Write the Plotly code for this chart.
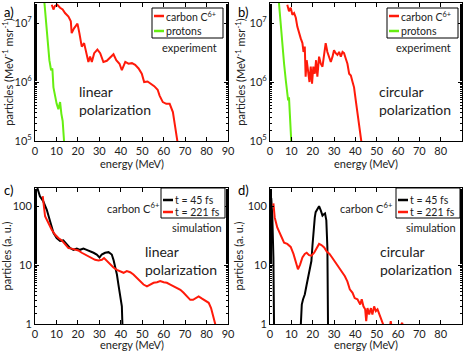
import plotly.graph_objects as go

# panel a) experiment, linear polarization  (energy MeV, log10 particles)
a_c_e = [7.8, 8.6, 9.3, 10.4, 11.7, 12.9, 14.0, 15.6, 16.7, 17.1, 18.2, 19.8, 20.7, 21.8, 22.9, 23.8, 24.9, 25.7, 26.5, 27.6,
         29.1, 30.4, 31.9, 33.5, 35.0, 36.6, 37.9, 39.4, 40.5, 42.1, 43.6, 45.2, 46.7, 48.3, 49.8, 50.9, 52.5, 54.0, 55.6,
         57.2, 58.1, 59.6, 61.2, 62.8, 64.3, 65.4, 66.5]
a_c_l = [7.31, 7.23, 7.29, 7.31, 7.26, 7.23, 7.17, 7.11, 7.03, 6.83, 6.91, 6.99, 6.83, 6.60, 6.66, 6.49, 6.34, 6.43, 6.34, 6.49,
         6.55, 6.49, 6.34, 6.36, 6.42, 6.47, 6.37, 6.31, 6.20, 6.34, 6.31, 6.32, 6.29, 6.23, 6.14, 6.00, 6.01, 5.97, 5.93,
         5.87, 5.77, 5.66, 5.63, 5.63, 5.49, 5.23, 4.97]
a_p_e = [4.4, 5.1, 5.9, 6.7, 7.5, 8.1, 8.6, 9.3, 10.1, 10.9, 11.7, 12.3, 12.9, 13.6]
a_p_l = [7.34, 7.06, 6.71, 6.37, 6.20, 6.23, 5.91, 5.74, 5.63, 5.54, 5.66, 5.46, 5.34, 4.97]

# panel b) experiment, circular polarization
b_c_e = [8.1, 8.9, 9.7, 10.5, 11.3, 12.1, 12.8, 13.6, 14.4, 15.2, 15.7, 16.3, 16.7, 17.2, 17.8, 18.5, 19.1, 19.7, 20.3, 21.0,
         21.6, 22.2, 23.0, 23.8, 24.6, 25.4, 26.1, 26.9, 27.7, 28.5, 29.3, 30.0, 30.8, 31.6, 32.4, 33.2, 34.0, 34.7, 35.5,
         36.3, 37.1, 37.9, 38.7, 39.4, 40.2, 41.0, 41.8, 42.9]
b_c_l = [7.31, 7.20, 7.26, 7.14, 7.17, 7.09, 6.94, 6.83, 6.74, 6.66, 6.51, 6.60, 6.09, 6.37, 6.20, 6.00, 6.26, 5.97, 6.26, 6.14,
         6.37, 6.09, 6.43, 6.31, 6.26, 6.49, 6.66, 6.51, 6.43, 6.34, 6.43, 6.54, 6.49, 6.46, 6.51, 6.43, 6.51, 6.49, 6.40,
         6.31, 6.14, 6.11, 6.00, 5.91, 5.69, 5.46, 5.23, 4.97]
b_p_e = [4.2, 5.0, 5.8, 6.6, 7.4, 7.8, 8.5, 8.9, 9.4, 10.0]
b_p_l = [7.34, 6.94, 6.60, 6.31, 6.03, 5.86, 5.69, 5.74, 5.46, 4.97]

# panel c) simulation, linear polarization
c_45_e = [1.1, 2.3, 3.9, 5.5, 7.0, 8.6, 10.1, 11.7, 13.2, 14.8, 16.4, 17.9, 19.5, 21.0, 22.6, 24.1, 25.7, 27.3, 28.8, 30.1,
          31.1, 32.7, 34.3, 35.8, 36.6, 37.4, 38.2, 38.9, 39.7, 40.5, 40.8]
c_45_l = [2.31, 2.17, 2.08, 1.94, 1.75, 1.55, 1.46, 1.41, 1.42, 1.35, 1.29, 1.26, 1.28, 1.26, 1.28, 1.26, 1.24, 1.21, 1.18, 1.13,
          1.18, 1.21, 1.22, 1.18, 1.09, 0.98, 0.84, 0.67, 0.50, 0.30, -0.05]
c_221_e = [3.6, 4.7, 6.2, 7.8, 9.3, 10.9, 12.5, 14.0, 15.6, 17.1, 18.7, 20.2, 21.8, 23.4, 24.9, 26.5, 28.0, 29.6, 31.2, 32.2,
           33.5, 35.0, 36.6, 38.2, 39.7, 41.3, 42.8, 44.4, 45.9, 47.5, 49.1, 50.6, 52.2, 53.7, 55.3, 56.9, 58.4, 60.0, 61.5,
           63.1, 64.6, 66.2, 67.8, 69.3, 70.9, 72.4, 73.7, 74.8, 76.3, 77.9, 79.4, 81.0, 82.1, 83.3, 84.4]
c_221_l = [2.17, 1.83, 1.72, 1.60, 1.52, 1.46, 1.42, 1.35, 1.29, 1.28, 1.26, 1.25, 1.21, 1.18, 1.15, 1.12, 1.09, 1.08, 1.09, 1.12,
           1.07, 1.01, 0.96, 0.92, 0.90, 0.87, 0.90, 0.88, 0.84, 0.78, 0.73, 0.67, 0.64, 0.67, 0.70, 0.71, 0.73, 0.71, 0.70,
           0.67, 0.64, 0.61, 0.58, 0.53, 0.47, 0.41, 0.41, 0.44, 0.47, 0.43, 0.40, 0.36, 0.27, 0.13, -0.05]

# panel d) simulation, circular polarization
d_45_e = [0.0, 0.6, 1.1, 1.6, 1.9, None, 14.4, 14.9, 15.5, 16.3, 17.2, 17.8, 18.8, 19.4, 19.9, 20.3, 21.0, 21.4, 22.2, 23.0,
          23.8, 24.6, 25.4, 25.8, 26.4, 26.9, 27.2]
d_45_l = [2.18, 2.13, 1.81, 1.13, -0.05, None, -0.05, 0.33, 0.42, 0.50, 0.67, 0.79, 0.96, 1.07, 1.33, 1.58, 1.81, 1.90, 1.95, 2.00,
          1.93, 1.84, 1.87, 1.88, 1.76, 1.30, -0.05]
d_221_e = [1.6, 2.2, 3.4, 5.0, 6.6, 8.1, 9.7, 11.0, 12.1, 13.1, 14.1, 15.2, 16.3, 17.2, 18.3, 19.4, 20.7, 21.9, 23.0, 24.1,
           25.4, 26.6, 27.9, 29.1, 30.4, 31.6, 32.9, 34.0, 35.1, 36.3, 37.4, 38.7, 39.7, 41.0, 42.3, 43.0, 43.8, 44.6, 45.1,
           45.7, 46.5, 47.3, 48.0, 48.8, 49.6, 50.4, 51.2, 52.0, 52.7, 54.0, 56.0, 56.6, 57.2, 60.0, 62.0, 62.5]
d_221_l = [2.05, 1.81, 1.64, 1.50, 1.38, 1.36, 1.31, 1.19, 1.04, 0.93, 1.01, 1.13, 1.19, 1.21, 1.17, 1.16, 1.21, 1.30, 1.36, 1.34,
           1.30, 1.23, 1.19, 1.13, 1.06, 1.01, 0.93, 0.87, 0.81, 0.72, 0.59, 0.53, 0.44, 0.42, 0.33, 0.42, 0.30, 0.25, 0.05,
           0.27, 0.16, 0.27, 0.16, 0.30, 0.22, 0.25, 0.16, 0.10, 0.02, -0.10, -0.10, 0.05, -0.10, -0.10, 0.02, -0.10]

RED = '#ff1a0a'
GREEN = '#66ee11'
FONT = 'Lato'
W, H = 468, 351


def to_lin(vals):
    return [None if v is None else 10 ** v for v in vals]


def px(x):
    return x / W


def py(y):
    return 1 - y / H


fig = go.Figure()

series = [
    (a_c_e, a_c_l, RED, 'x', 'y'), (a_p_e, a_p_l, GREEN, 'x', 'y'),
    (b_c_e, b_c_l, RED, 'x2', 'y2'), (b_p_e, b_p_l, GREEN, 'x2', 'y2'),
    (c_45_e, c_45_l, 'black', 'x3', 'y3'), (c_221_e, c_221_l, RED, 'x3', 'y3'),
    (d_45_e, d_45_l, 'black', 'x4', 'y4'), (d_221_e, d_221_l, RED, 'x4', 'y4'),
]
for e, l, col, xa, ya in series:
    fig.add_trace(go.Scatter(x=e, y=to_lin(l), mode='lines', line=dict(color=col, width=2),
                             xaxis=xa, yaxis=ya, showlegend=False, hoverinfo='skip'))

xl = [px(35), px(228)]
xr = [px(270), px(462)]
yt = [py(141), py(3)]
yb = [py(324), py(188)]

TICKFONT = dict(size=11, color='#222', family=FONT)


def xax(dom, anchor):
    return dict(domain=dom, anchor=anchor, range=[0, 90], dtick=10, showline=True, mirror='ticks',
                linecolor='black', linewidth=1, ticks='inside', ticklen=4, tickcolor='black',
                showgrid=False, zeroline=False, tickfont=TICKFONT, automargin=False)


def yax(dom, anchor, rng, vals, texts, title):
    return dict(domain=dom, anchor=anchor, type='log', range=rng, tickvals=vals, ticktext=texts,
                showline=True, mirror='ticks', linecolor='black', linewidth=1, ticks='inside', ticklen=4,
                tickcolor='black', showgrid=False, zeroline=False, tickfont=TICKFONT, automargin=False,
                minor=dict(ticks='inside', ticklen=2, tickcolor='black'),
                title=dict(text=title, font=TICKFONT, standoff=1))


exp_vals = [1e5, 1e6, 1e7]
exp_txt = ['10<sup>5</sup>', '10<sup>6</sup>', '10<sup>7</sup>']
sim_vals = [1, 10, 100]
sim_txt = ['1', '10', '100']
exp_title = 'particles (MeV<sup>-1</sup> msr<sup>-1</sup>)'

fig.update_layout(
    width=W, height=H,
    margin=dict(l=0, r=0, t=0, b=0),
    paper_bgcolor='white', plot_bgcolor='white',
    font=dict(family=FONT, color='#222'),
    showlegend=False,
    xaxis=xax(xl, 'y'),
    yaxis=yax(yt, 'x', [5, 7.34], exp_vals, exp_txt, exp_title),
    xaxis2=xax(xr, 'y2'),
    yaxis2=yax(yt, 'x2', [5, 7.34], exp_vals, exp_txt, exp_title),
    xaxis3=xax(xl, 'y3'),
    yaxis3=yax(yb, 'x3', [0, 2.31], sim_vals, sim_txt, 'particles (a. u.)'),
    xaxis4=xax(xr, 'y4'),
    yaxis4=yax(yb, 'x4', [0, 2.31], sim_vals, sim_txt, 'particles (a. u.)'),
)

shapes = []
ann = []

# x titles as annotations so the bottom row can sit right at the page edge
for xc, yc in [(131.5, 163), (366, 163), (131.5, 344), (366, 344)]:
    ann.append(dict(text='energy (MeV)', x=px(xc), y=py(yc), xref='paper', yref='paper', xanchor='center',
                    yanchor='middle', showarrow=False, font=TICKFONT))

# legend boxes drawn by hand (compact, like the original)
legends = [
    ((152, 8, 223, 38), [(RED, 'carbon C<sup>6+</sup>', 16), (GREEN, 'protons', 31)]),
    ((387, 8, 458, 38), [(RED, 'carbon C<sup>6+</sup>', 16), (GREEN, 'protons', 31)]),
    ((161, 188, 225, 218), [('black', 't = 45 fs', 200), (RED, 't = 221 fs', 212)]),
    ((396, 188, 460, 218), [('black', 't = 45 fs', 200), (RED, 't = 221 fs', 212)]),
]
for (x0, y0, x1, y1), items in legends:
    shapes.append(dict(type='rect', xref='paper', yref='paper', x0=px(x0), x1=px(x1), y0=py(y1), y1=py(y0),
                       line=dict(color='black', width=1), fillcolor='white', layer='above'))
    for col, label, yy in items:
        shapes.append(dict(type='line', xref='paper', yref='paper', x0=px(x0 + 2), x1=px(x0 + 12),
                           y0=py(yy), y1=py(yy), line=dict(color=col, width=2.5), layer='above'))
        ann.append(dict(text=label, x=px(x0 + 12), y=py(yy), xref='paper', yref='paper', xanchor='left',
                        yanchor='middle', showarrow=False, font=dict(size=10.5, color='#222', family=FONT)))

for lab, x, y in [('a)', 2, 12), ('b)', 236, 12), ('c)', 2, 190), ('d)', 236, 190)]:
    ann.append(dict(text=lab, x=px(x), y=py(y), xref='paper', yref='paper', xanchor='left', yanchor='middle',
                    showarrow=False, font=dict(size=13, color='black', family=FONT)))

texts = [
    ('experiment', 58.3, 0.68, 'x', 'y domain', 11),
    ('linear<br>polarization', 19.6, 0.29, 'x', 'y domain', 14),
    ('experiment', 58.1, 0.68, 'x2', 'y2 domain', 11),
    ('circular<br>polarization', 50.2, 0.29, 'x2', 'y2 domain', 14),
    ('carbon C<sup>6+</sup>', 32.6, 0.86, 'x3', 'y3 domain', 11),
    ('simulation', 63.0, 0.706, 'x3', 'y3 domain', 11),
    ('linear<br>polarization', 50.4, 0.467, 'x3', 'y3 domain', 14),
    ('carbon C<sup>6+</sup>', 31.9, 0.86, 'x4', 'y4 domain', 11),
    ('simulation', 62.8, 0.706, 'x4', 'y4 domain', 11),
    ('circular<br>polarization', 50.6, 0.467, 'x4', 'y4 domain', 14),
]
for t, x, y, xr_, yr_, s in texts:
    ann.append(dict(text=t, x=x, y=y, xref=xr_, yref=yr_, xanchor='left', yanchor='middle', align='left',
                    showarrow=False, font=dict(size=s, color='#222', family=FONT)))

fig.update_layout(annotations=ann, shapes=shapes)

# the page's default body margin would push the fixed-size figure out of the window
fig.write_html("out.html", config={'displayModeBar': False},
               post_script="document.body.style.margin='0';")
